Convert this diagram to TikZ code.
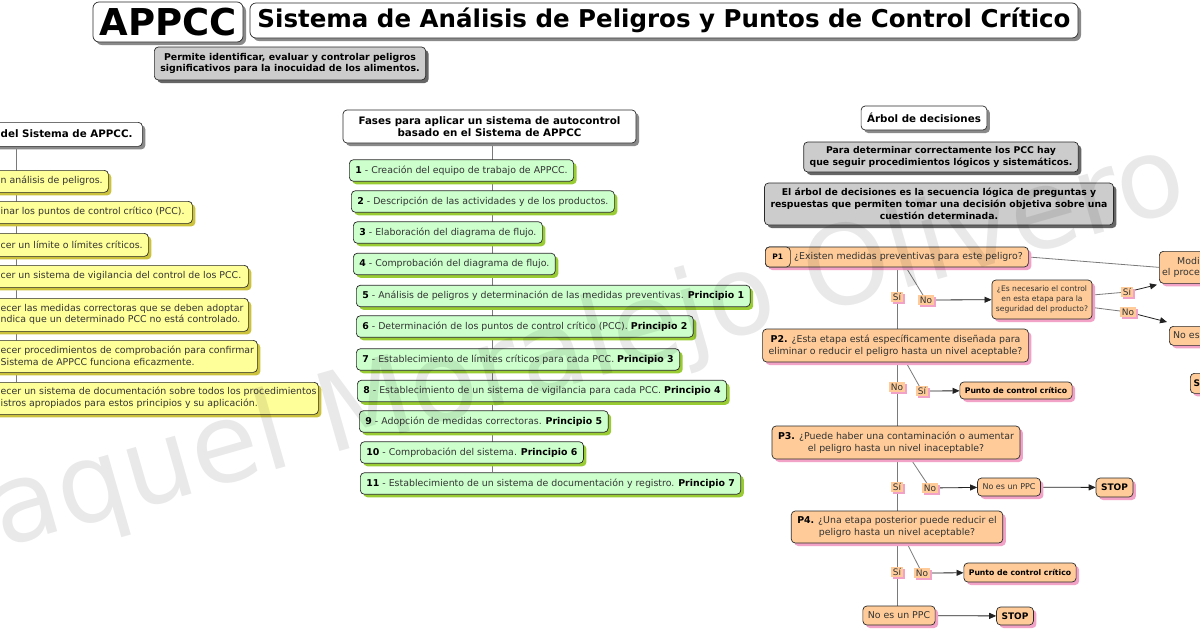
\documentclass[tikz,border=0pt]{standalone}
\usepackage{fontspec}
\setmainfont{DejaVu Sans}
\usetikzlibrary{shadows,arrows.meta,calc}
\pgfdeclarelayer{bgfill}
\pgfdeclarelayer{background}
\pgfdeclarelayer{top}
\pgfsetlayers{bgfill,background,main,top}
\definecolor{yfill}{HTML}{FFFF99}
\definecolor{yshad}{HTML}{CCC23C}
\definecolor{gfill}{HTML}{CCFFCC}
\definecolor{gshad}{HTML}{99CC33}
\definecolor{ofill}{HTML}{FFCC99}
\definecolor{pshad}{HTML}{F2A2C6}
\definecolor{gyfill}{HTML}{CCCCCC}
\definecolor{gyshad}{HTML}{666666}
\definecolor{wshad}{HTML}{8A8A8A}
\definecolor{bordc}{HTML}{2A2A2A}
\definecolor{txtc}{HTML}{333333}
\definecolor{linec}{HTML}{7A7A7A}
\definecolor{arrc}{HTML}{222222}
\newcommand\fsz[2]{\fontsize{#1}{#2}\selectfont}
\newcommand\bkb[1]{\textcolor{black}{\textbf{#1}}}
\tikzset{
  base/.style={draw=bordc, line width=0.7pt, rounded corners=4pt, inner xsep=6pt, inner ysep=2pt, text=txtc, font=\fsz{9.4}{11.6}},
  ybox/.style={base, fill=yfill, drop shadow={shadow xshift=3pt,shadow yshift=-3pt,fill=yshad,opacity=1}},
  gbox/.style={base, fill=gfill, minimum height=21.5pt, anchor=west, drop shadow={shadow xshift=3pt,shadow yshift=-3pt,fill=gshad,opacity=1}},
  obox/.style={base, fill=ofill, drop shadow={shadow xshift=3pt,shadow yshift=-3pt,fill=pshad,opacity=1}},
  wbox/.style={base, fill=white, text=black, font=\fsz{10.3}{12.4}\bfseries, drop shadow={shadow xshift=3pt,shadow yshift=-3pt,fill=wshad,opacity=1}},
  gybox/.style={base, fill=gyfill, text=black, font=\fsz{9.3}{11.8}\bfseries, align=center, drop shadow={shadow xshift=3pt,shadow yshift=-3pt,fill=gyshad,opacity=1}},
  tagbox/.style={draw=bordc, line width=0.7pt, rounded corners=4pt, fill=ofill, inner sep=0pt, text=black, font=\fsz{7.5}{9}\bfseries},
  plain/.style={inner sep=0pt, text=txtc, font=\fsz{9.4}{11.6}, align=left},
  lbl/.style={fill=ofill, inner xsep=1.5pt, inner ysep=1.2pt, text=txtc, font=\fsz{9}{10}, drop shadow={shadow xshift=2pt,shadow yshift=-2pt,fill=pshad,opacity=1}},
  link/.style={draw=linec, line width=0.8pt},
  arr/.style={draw=arrc, line width=0.8pt, -{Triangle[length=7pt,width=6pt]}},
}
\begin{document}
\begin{tikzpicture}[x=1pt,y=-1pt]
\useasboundingbox (0,0) rectangle (1200,630);
\begin{pgfonlayer}{bgfill}
\fill[white] (0,0) rectangle (1200,630);
\end{pgfonlayer}

% ---------- titles ----------
\node[wbox, rounded corners=6pt, font=\fsz{37}{40}\bfseries, minimum width=150pt, minimum height=40pt, inner sep=0pt] (appcc) at (168,22) {APPCC};
\node[wbox, rounded corners=6pt, font=\fsz{24.5}{28}\bfseries, minimum width=828pt, minimum height=35pt, inner sep=0pt] (title) at (664,20.5) {Sistema de Análisis de Peligros y Puntos de Control Crítico};
\node[gybox, font=\fsz{9.4}{11.8}\bfseries, minimum width=268pt, minimum height=33pt] (sub) at (290,63.5) {Permite identificar, evaluar y controlar peligros\\significativos para la inocuidad de los alimentos.};

% ---------- left column ----------
\coordinate (ls) at (16,0);
\node[wbox, anchor=north west, minimum width=172pt, minimum height=24pt] (lh) at (-30,122) {};
\node[plain, anchor=west, text=black, font=\fsz{10.3}{12.4}\bfseries] (lht) at (0.5,134) {del Sistema de APPCC.};
\node[ybox, anchor=north west, minimum width=138pt, minimum height=22pt] (y1) at (-30,170) {};
\node[plain, anchor=west] (y1t) at (0.5,181) {n análisis de peligros.};
\node[ybox, anchor=north west, minimum width=222pt, minimum height=22pt] (y2) at (-30,201) {};
\node[plain, anchor=west] (y2t) at (0.5,212) {inar los puntos de control crítico (PCC).};
\node[ybox, anchor=north west, minimum width=178pt, minimum height=23pt] (y3) at (-30,233) {};
\node[plain, anchor=west] (y3t) at (0.5,244.5) {cer un límite o límites críticos.};
\node[ybox, anchor=north west, minimum width=278pt, minimum height=22pt] (y4) at (-30,265) {};
\node[plain, anchor=west] (y4t) at (0.5,276) {cer un sistema de vigilancia del control de los PCC.};
\node[ybox, anchor=north west, minimum width=278pt, minimum height=33pt] (y5) at (-30,298) {};
\node[plain, anchor=west] (y5t) at (0.5,314.5) {ecer las medidas correctoras que se deben adoptar\\ndica que un determinado PCC no está controlado.};
\node[ybox, anchor=north west, minimum width=287pt, minimum height=32pt] (y6) at (-30,340) {};
\node[plain, anchor=west] (y6t) at (0.5,356) {ecer procedimientos de comprobación para confirmar\\Sistema de APPCC funciona eficazmente.};
\node[ybox, anchor=north west, minimum width=348pt, minimum height=32pt] (y7) at (-30,382) {};
\node[plain, anchor=west] (y7t) at (0.5,398) {ecer un sistema de documentación sobre todos los procedimientos\\istros apropiados para estos principios y su aplicación.};
\begin{pgfonlayer}{background}
\draw[link] (lh.south -| ls) -- (y7.north -| ls);
\end{pgfonlayer}

% ---------- middle column ----------
\coordinate (ms) at (492,0);
\node[wbox, align=center, minimum width=293pt, minimum height=33pt] (mh) at (489.5,126.5) {Fases para aplicar un sistema de autocontrol\\basado en el Sistema de APPCC};
\node[gbox] (g1) at (349,170.5) {\bkb{1} - Creación del equipo de trabajo de APPCC.};
\node[gbox] (g2) at (351,201.5) {\bkb{2} - Descripción de las actividades y de los productos.};
\node[gbox] (g3) at (353,232.5) {\bkb{3} - Elaboración del diagrama de flujo.};
\node[gbox] (g4) at (353,264) {\bkb{4} - Comprobación del diagrama de flujo.};
\node[gbox] (g5) at (356,296) {\bkb{5} - Análisis de peligros y determinación de las medidas preventivas. \bkb{Principio 1}};
\node[gbox] (g6) at (356,326.5) {\bkb{6} - Determinación de los puntos de control crítico (PCC). \bkb{Principio 2}};
\node[gbox] (g7) at (356,359.5) {\bkb{7} - Establecimiento de límites críticos para cada PCC. \bkb{Principio 3}};
\node[gbox] (g8) at (357,391) {\bkb{8} - Establecimiento de un sistema de vigilancia para cada PCC. \bkb{Principio 4}};
\node[gbox] (g9) at (359,421.5) {\bkb{9} - Adopción de medidas correctoras. \bkb{Principio 5}};
\node[gbox] (g10) at (360,452.5) {\bkb{10} - Comprobación del sistema. \bkb{Principio 6}};
\node[gbox] (g11) at (360,483.5) {\bkb{11} - Establecimiento de un sistema de documentación y registro. \bkb{Principio 7}};
\begin{pgfonlayer}{background}
\draw[link] (mh.south -| ms) -- (g11.north -| ms);
\end{pgfonlayer}

% ---------- right column ----------
\node[wbox, minimum height=24pt] (arb) at (924,118) {Árbol de decisiones};
\node[gybox, minimum height=30pt] (gr1) at (941,157) {Para determinar correctamente los PCC hay\\que seguir procedimientos lógicos y sistemáticos.};
\node[gybox, minimum height=42pt] (gr2) at (939,204) {El árbol de decisiones es la secuencia lógica de preguntas y\\respuestas que permiten tomar una decisión objetiva sobre una\\cuestión determinada.};

\node[obox, anchor=west, minimum width=263pt, minimum height=20pt] (p1) at (765,257) {};
\node[tagbox, anchor=west, minimum width=25pt, minimum height=20pt] (p1tag) at (765,257) {P1};
\node[plain, anchor=west] (p1q) at (794,257) {¿Existen medidas preventivas para este peligro?};
\node[obox, align=center, minimum height=33pt] (p2) at (895.5,345.5) {\bkb{P2.} ¿Esta etapa está específicamente diseñada para\\eliminar o reducir el peligro hasta un nivel aceptable?};
\node[obox, align=center, minimum height=33pt] (p3) at (896,442.5) {\bkb{P3.} ¿Puede haber una contaminación o aumentar\\el peligro hasta un nivel inaceptable?};
\node[obox, align=center, minimum height=32pt] (p4) at (897,527) {\bkb{P4.} ¿Una etapa posterior puede reducir el\\peligro hasta un nivel aceptable?};

\node[obox, align=center, font=\fsz{7.6}{10.2}, inner xsep=4pt, minimum height=39pt] (esn) at (1042,299.5) {¿Es necesario el control\\en esta etapa para la\\seguridad del producto?};

\node[obox, anchor=north west, minimum width=80pt, minimum height=32pt] (modi) at (1159,251) {};
\node[plain, anchor=west] (modit1) at (1177,261) {Modi};
\node[plain, anchor=west] (modit2) at (1162,273) {el proce};
\node[obox, anchor=north west, minimum width=60pt, minimum height=19pt] (noes0) at (1169,326) {};
\node[plain, anchor=west] (noes0t) at (1173,335.5) {No es};
\node[obox, anchor=north west, minimum width=30pt, minimum height=20pt] (s0) at (1190,373) {};
\node[plain, anchor=west, text=black, font=\fsz{9}{10}\bfseries] (s0t) at (1193.5,383) {S};

\node[obox, text=black, font=\fsz{7.7}{9}\bfseries, inner xsep=5pt, minimum height=17pt] (pcc1) at (1016,390.5) {Punto de control crítico};
\node[obox, font=\fsz{8}{9.5}, inner xsep=5pt, minimum height=18pt] (ppc1) at (1009,487) {No es un PPC};
\node[obox, text=black, font=\fsz{9}{10}\bfseries, inner xsep=5pt, minimum height=19pt] (stop1) at (1114.5,487.5) {STOP};
\node[obox, text=black, font=\fsz{7.7}{9}\bfseries, inner xsep=5pt, minimum height=19pt] (pcc2) at (1020,572.5) {Punto de control crítico};
\node[obox, inner xsep=5pt, minimum height=19pt] (ppc2) at (899,615.5) {No es un PPC};
\node[obox, text=black, font=\fsz{9}{10}\bfseries, inner xsep=5pt, minimum height=18pt] (stop2) at (1015,616) {STOP};

% labels
\node[lbl] (si1) at (897,297) {Sí};
\node[lbl] (no1) at (926,300) {No};
\node[lbl] (si2) at (1127,292) {Sí};
\node[lbl] (no2) at (1128,312) {No};
\node[lbl] (no3) at (897,387) {No};
\node[lbl] (si3) at (922,391) {Sí};
\node[lbl] (si4) at (897,487) {Sí};
\node[lbl] (no4) at (930,488) {No};
\node[lbl] (si5) at (897,572) {Sí};
\node[lbl] (no5) at (922,573) {No};

\begin{pgfonlayer}{background}
\draw[link] (p1.east) -- (modi.west);
\draw[link] (p1.south -| si1) -- (si1);
\draw[link] (si1) -- (p2.north -| si1);
\draw[link] ($(p1.south -| si1)+(9,0)$) -- (no1);
\draw[arr] (no1) -- (esn);
\draw[link] ([yshift=4.5pt]esn.east) -- (si2);
\draw[arr] (si2) -- ($(modi.south west)+(-2,1)$);
\draw[link] ([yshift=-8pt]esn.east) -- (no2);
\draw[arr] (no2) -- ($(noes0.north west)+(-2,-4)$);
\draw[link] (p2.south -| no3) -- (no3);
\draw[link] (no3) -- (p3.north -| no3);
\draw[link] ($(p2.south -| no3)+(9,0)$) -- (si3);
\draw[arr] (si3) -- (pcc1);
\draw[link] (p3.south -| si4) -- (si4);
\draw[link] (si4) -- (p4.north -| si4);
\draw[link] ($(p3.south -| si4)+(14,0)$) -- (no4);
\draw[arr] (no4) -- (ppc1);
\draw[arr] (ppc1) -- (stop1);
\draw[link] (p4.south -| si5) -- (si5);
\draw[link] (si5) -- (ppc2.north -| si5);
\draw[link] ($(p4.south -| si5)+(10,0)$) -- (no5);
\draw[arr] (no5) -- (pcc2);
\draw[arr] (ppc2) -- (stop2);
\end{pgfonlayer}

% watermark
\begin{pgfonlayer}{top}
\node[text=black, opacity=0.085, rotate=16, anchor=base west, inner sep=0pt, font=\fsz{110}{110}] (wm) at (2,548) {aquel Moralejo Olivero};
\end{pgfonlayer}
\end{tikzpicture}
\end{document}
